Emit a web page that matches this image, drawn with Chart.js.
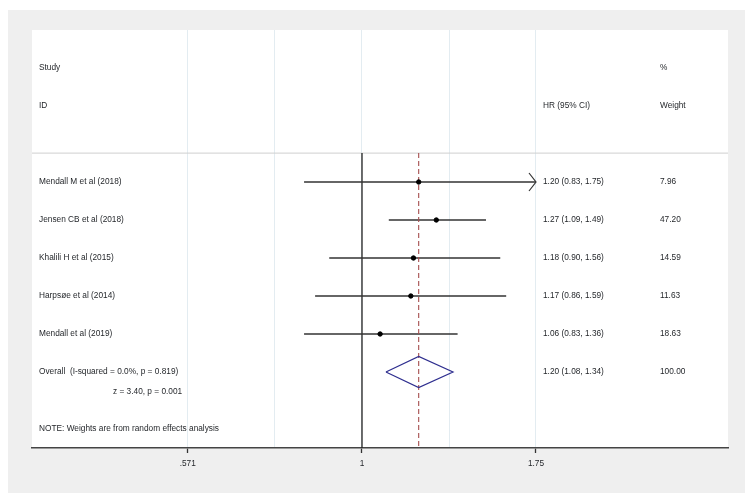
<!DOCTYPE html>
<html>
<head>
<meta charset="utf-8">
<script src="https://cdn.jsdelivr.net/npm/chart.js@4/dist/chart.umd.min.js"></script>
<style>
  body { margin: 0; background: #fff; }
  canvas { display: block; }
</style>
</head>
<body>
<canvas id="forest" width="751" height="501"></canvas>
<script>
// study rows
const studies = ['Mendall M et al (2018)', 'Jensen CB et al (2018)', 'Khalili H et al (2015)', 'Harpsøe et al (2014)', 'Mendall et al (2019)']
const hr = [1.20, 1.27, 1.18, 1.17, 1.06]
const lower = [0.83, 1.09, 0.90, 0.86, 0.83]
const upper = [1.75, 1.49, 1.56, 1.59, 1.36]
const weights = ['7.96', '47.20', '14.59', '11.63', '18.63']
// pooled estimate
const overallHr = 1.20
const overallCi = [1.08, 1.34]
const overallLabel = 'Overall  (I-squared = 0.0%, p = 0.819)'
const overallStats = 'z = 3.40, p = 0.001'
const noteText = 'NOTE: Weights are from random effects analysis'
// x axis
const tickValues = [0.571, 1, 1.75]
const tickLabels = ['.571', '1', '1.75']
const gridValues = [0.571, 0.7556, 1, 1.3229, 1.75]
const xMin = 0.346
const xMax = 3.245

const firstRow = 3
const overallRow = 8
const headerLine = 2.24
const bottomRow = 10

const textColor = '#1f2226'
const font = '8.3px "Liberation Sans", Arial, sans-serif'

let datasets = []

// CI lines
studies.forEach(function (name, i) {
  datasets.push({
    type: 'line',
    label: name,
    data: [{ x: lower[i], y: firstRow + i }, { x: upper[i], y: firstRow + i }],
    borderColor: '#333',
    borderWidth: 1.3,
    pointRadius: 0,
    order: 4
  })
})

// point estimates
datasets.push({
  type: 'scatter',
  label: 'HR',
  data: hr.map(function (v, i) { return { x: v, y: firstRow + i } }),
  backgroundColor: '#000',
  borderColor: '#000',
  pointStyle: 'circle',
  pointRadius: 2.2,
  order: 0
})

// pooled diamond
datasets.push({
  type: 'line',
  label: 'Overall',
  data: [
    { x: overallCi[0], y: overallRow },
    { x: overallHr, y: overallRow - 0.41 },
    { x: overallCi[1], y: overallRow },
    { x: overallHr, y: overallRow + 0.41 },
    { x: overallCi[0], y: overallRow }
  ],
  borderColor: '#2e2e8f',
  borderWidth: 1.2,
  pointRadius: 0,
  order: 1
})

// no-effect line
datasets.push({
  type: 'line',
  label: 'null',
  data: [{ x: 1, y: headerLine }, { x: 1, y: bottomRow }],
  borderColor: '#222',
  borderWidth: 1.3,
  pointRadius: 0,
  order: 5
})

// overall effect line
datasets.push({
  type: 'line',
  label: 'overall line',
  data: [{ x: overallHr, y: headerLine }, { x: overallHr, y: bottomRow }],
  borderColor: '#a54e4e',
  borderWidth: 1.1,
  borderDash: [5, 3],
  pointRadius: 0,
  order: 2
})

const framePlugin = {
  id: 'frame',
  beforeDraw: function (chart) {
    let ctx = chart.ctx
    let a = chart.chartArea
    ctx.save()
    ctx.fillStyle = '#fff'
    ctx.fillRect(0, 0, chart.width, chart.height)
    ctx.fillStyle = '#efefef'
    ctx.fillRect(a.left - 24, a.top - 20, a.right - a.left + 41, a.bottom - a.top + 65)
    ctx.fillStyle = '#fff'
    ctx.fillRect(a.left, a.top, a.right - a.left, a.bottom - a.top)
    ctx.restore()
  },
  beforeDatasetsDraw: function (chart) {
    let ctx = chart.ctx
    let a = chart.chartArea
    let y = chart.scales.y.getPixelForValue(headerLine)
    ctx.save()
    ctx.strokeStyle = '#d0d0d0'
    ctx.lineWidth = 1
    ctx.beginPath()
    ctx.moveTo(a.left, y)
    ctx.lineTo(a.right, y)
    ctx.stroke()
    ctx.restore()
  },
  afterDatasetsDraw: function (chart) {
    let ctx = chart.ctx
    let a = chart.chartArea
    let xs = chart.scales.x
    let ys = chart.scales.y
    ctx.save()

    // arrow heads where the CI runs off the labelled range
    let edge = tickValues[tickValues.length - 1]
    ctx.strokeStyle = '#333'
    ctx.lineWidth = 1.2
    upper.forEach(function (u, i) {
      if (u >= edge) {
        let px = xs.getPixelForValue(edge)
        let py = ys.getPixelForValue(firstRow + i)
        ctx.beginPath()
        ctx.moveTo(px - 7, py - 9)
        ctx.lineTo(px, py)
        ctx.lineTo(px - 7, py + 9)
        ctx.stroke()
      }
    })

    ctx.fillStyle = textColor
    ctx.font = font
    ctx.textBaseline = 'middle'
    ctx.textAlign = 'left'
    let colName = a.left + 7
    let colHr = a.left + 511
    let colW = a.left + 628
    function txt (s, x, row) {
      ctx.fillText(s, x, ys.getPixelForValue(row))
    }
    txt('Study', colName, 0)
    txt('%', colW, 0)
    txt('ID', colName, 1)
    txt('HR (95% CI)', colHr, 1)
    txt('Weight', colW, 1)
    studies.forEach(function (name, i) {
      txt(name, colName, firstRow + i)
      txt(hr[i].toFixed(2) + ' (' + lower[i].toFixed(2) + ', ' + upper[i].toFixed(2) + ')', colHr, firstRow + i)
      txt(weights[i], colW, firstRow + i)
    })
    txt(overallLabel, colName, overallRow)
    txt(overallHr.toFixed(2) + ' (' + overallCi[0].toFixed(2) + ', ' + overallCi[1].toFixed(2) + ')', colHr, overallRow)
    txt('100.00', colW, overallRow)
    txt(overallStats, a.left + 81, overallRow + 0.53)
    txt(noteText, colName, overallRow + 1.5)
    ctx.restore()
  }
}

const ctx = document.getElementById('forest').getContext('2d')
const myChart = new Chart(ctx, {
  type: 'line',
  data: { datasets: datasets },
  plugins: [framePlugin],
  options: {
    responsive: false,
    animation: false,
    devicePixelRatio: 1,
    layout: { padding: { left: 32, top: 30, right: 23, bottom: 0 } },
    plugins: {
      legend: { display: false },
      tooltip: { enabled: false }
    },
    scales: {
      x: {
        type: 'logarithmic',
        bounds: 'data',
        min: xMin,
        max: xMax,
        afterBuildTicks: function (scale) {
          scale.ticks = gridValues.map(function (v) { return { value: v } })
        },
        afterFit: function (scale) {
          scale.height = 53
        },
        ticks: {
          autoSkip: false,
          maxRotation: 0,
          padding: 6,
          color: textColor,
          font: { family: '"Liberation Sans", Arial, sans-serif', size: 8.3 },
          callback: function (value) {
            let k = tickValues.indexOf(value)
            return k >= 0 ? tickLabels[k] : ''
          }
        },
        grid: {
          color: '#e3ecf1',
          lineWidth: 1,
          tickLength: 5,
          tickWidth: 1.3,
          tickColor: function (c) {
            return tickValues.indexOf(c.tick.value) >= 0 ? '#333' : 'rgba(0,0,0,0)'
          }
        },
        border: { display: true, color: '#444', width: 1.6 }
      },
      y: {
        type: 'linear',
        display: false,
        reverse: true,
        min: -1,
        max: bottomRow
      }
    }
  }
})
</script>
</body>
</html>
